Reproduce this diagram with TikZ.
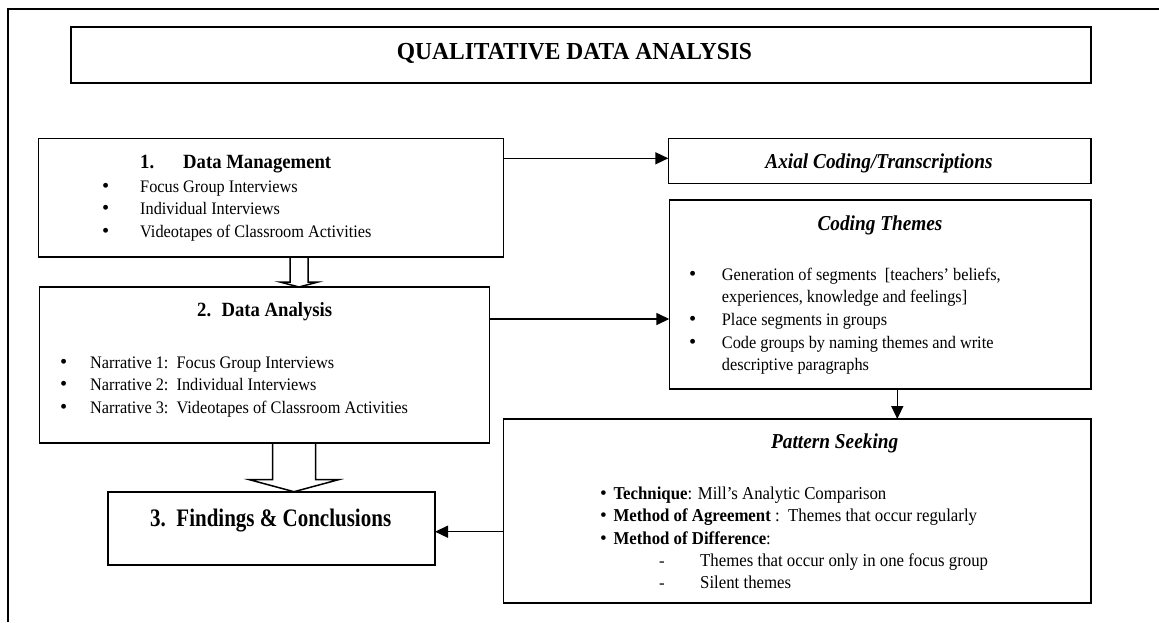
\documentclass[tikz,border=0pt]{standalone}
\usepackage{fontspec}
\setmainfont{Liberation Serif}
\usetikzlibrary{arrows.meta,fit,calc}
% vertical stretch of a line of text about its baseline
\newcommand\vst[2]{\scalebox{1}[#1]{#2}}
\begin{document}
\begin{tikzpicture}[x=1pt,y=-1pt,
  box/.style={draw, line width=1.6pt, inner sep=0pt, outer sep=0pt},
  lbl/.style={inner sep=0pt, anchor=base west},
  ctr/.style={inner sep=0pt, anchor=base},
  body/.style={font=\fontsize{16.3}{19}\selectfont},
  bodyb/.style={font=\fontsize{16.8}{19}\selectfont},
  head/.style={font=\fontsize{18.7}{22}\selectfont\bfseries},
  ital/.style={font=\fontsize{19.3}{22}\selectfont\bfseries\itshape},
  arr/.style={line width=1.5pt, -{Triangle[length=13pt,width=12pt]}},
  hollow/.style={line width=1.5pt, line join=miter}]

\useasboundingbox (0,0) rectangle (1159,622);
\fill[white] (0,0) rectangle (1159,622);

% outer frame
\draw[line width=1.6pt] (8,622) -- (8,9) -- (1159,9);

% boxes
\node[box, fit={(70.7,27) (1090.7,83)}] (title) {};
\node[box, fit={(38.3,138.3) (503.3,256.7)}] (dm) {};
\node[box, fit={(39.3,287) (489.3,442.7)}] (da) {};
\node[box, fit={(107.7,491.7) (435,565)}] (fc) {};
\node[box, fit={(668.3,138.3) (1090.7,183.3)}] (ax) {};
\node[box, fit={(669.3,200) (1090.7,389)}] (ct) {};
\node[box, fit={(503.3,419) (1090.7,602.7)}] (ps) {};

% hollow block arrows
\coordinate (h1) at (299,0);
\draw[hollow] (dm.south -| h1) ++(-9,0) -- ++(0,25.3) -- ++(-10,0)
  -- (da.north -| h1) -- ++(19,-5) -- ++(-10,0) -- ++(0,-25.3);
\coordinate (h2) at (294,0);
\draw[hollow] (da.south -| h2) ++(-21.5,0) -- ++(0,37) -- ++(-23,0)
  -- (fc.north -| h2) -- ++(44.5,-12) -- ++(-23,0) -- ++(0,-37);

% connectors
\coordinate (y1) at (0,158.3);
\draw[arr] (dm.east |- y1) -- (ax.west |- y1);
\coordinate (y2) at (0,319);
\draw[arr] (da.east |- y2) -- (ct.west |- y2);
\coordinate (x3) at (897.3,0);
\draw[arr] (ct.south -| x3) -- (ps.north -| x3);
\coordinate (y4) at (0,531.7);
\draw[arr] (ps.west |- y4) -- (fc.east |- y4);

% title
\node[ctr, font=\fontsize{23.5}{26}\selectfont\bfseries] (ttl) at (574.5,59) {\vst{1.04}{QUALITATIVE DATA ANALYSIS}};

% 1. Data Management
\node[lbl, head] (dmn) at (140,168) {\vst{1.08}{1.}};
\node[lbl, head] (dmt) at (183,168) {\vst{1.08}{Data Management}};
\foreach \yy/\tx [count=\i] in {192/Focus Group Interviews, 214.5/Individual Interviews, 237/Videotapes of Classroom Activities}{
  \node[lbl, body] (dmb\i) at (102,\yy) {\scalebox{1.25}{•}};
  \node[lbl, body] (dml\i) at (140,\yy) {\vst{1.08}{\tx}};
}

% 2. Data Analysis
\node[lbl, head] (dat) at (197,316) {\vst{1.08}{2.\hspace{0.55em}Data Analysis}};
\foreach \yy/\tx [count=\i] in {368/Narrative 1:\ \ Focus Group Interviews, 390.5/Narrative 2:\ \ Individual Interviews, 413/Narrative 3:\ \ Videotapes of Classroom Activities}{
  \node[lbl, body] (dab\i) at (60,\yy) {\scalebox{1.25}{•}};
  \node[lbl, body] (dal\i) at (90,\yy) {\vst{1.08}{\tx}};
}

% 3. Findings & Conclusions
\node[lbl, font=\fontsize{21}{24}\selectfont\bfseries] (fct) at (150,526) {\vst{1.2}{3.\ \ Findings \& Conclusions}};

% Axial coding
\node[ctr, ital] (axt) at (879,168) {\vst{1.1}{Axial Coding/Transcriptions}};

% Coding themes
\node[ctr, ital] (ctt) at (880,230) {\vst{1.1}{Coding Themes}};
\node[lbl, body] (ctb1) at (689,280) {\scalebox{1.25}{•}};
\node[lbl, body] (ctl1) at (721.7,280) {\vst{1.08}{Generation of segments\ \ [teachers’ beliefs,}};
\node[lbl, body] (ctl2) at (721.7,302) {\vst{1.08}{experiences, knowledge and feelings]}};
\node[lbl, body] (ctb2) at (689,325) {\scalebox{1.25}{•}};
\node[lbl, body] (ctl3) at (721.7,325) {\vst{1.08}{Place segments in groups}};
\node[lbl, body] (ctb3) at (689,348) {\scalebox{1.25}{•}};
\node[lbl, body] (ctl4) at (721.7,348) {\vst{1.08}{Code groups by naming themes and write}};
\node[lbl, body] (ctl5) at (721.7,370) {\vst{1.08}{descriptive paragraphs}};

% Pattern seeking
\node[ctr, ital] (pst) at (834.7,448) {\vst{1.1}{Pattern Seeking}};
\node[lbl, bodyb] (psb1) at (600,499) {\scalebox{1.15}{•}};
\node[lbl, bodyb] (psl1) at (613.3,499) {\vst{1.08}{\textbf{Technique}: Mill’s Analytic Comparison}};
\node[lbl, bodyb] (psb2) at (600,521.7) {\scalebox{1.15}{•}};
\node[lbl, bodyb] (psl2) at (613.3,521.7) {\vst{1.08}{\textbf{Method of Agreement} :\ \ Themes that occur regularly}};
\node[lbl, bodyb] (psb3) at (600,544.3) {\scalebox{1.15}{•}};
\node[lbl, bodyb] (psl3) at (613.3,544.3) {\vst{1.08}{\textbf{Method of Difference}:}};
\node[lbl, bodyb] (psd1) at (659,566.7) {-};
\node[lbl, bodyb] (psl4) at (700,566.7) {\vst{1.08}{Themes that occur only in one focus group}};
\node[lbl, bodyb] (psd2) at (659,588.3) {-};
\node[lbl, bodyb] (psl5) at (700,588.3) {\vst{1.08}{Silent themes}};
\end{tikzpicture}
\end{document}
